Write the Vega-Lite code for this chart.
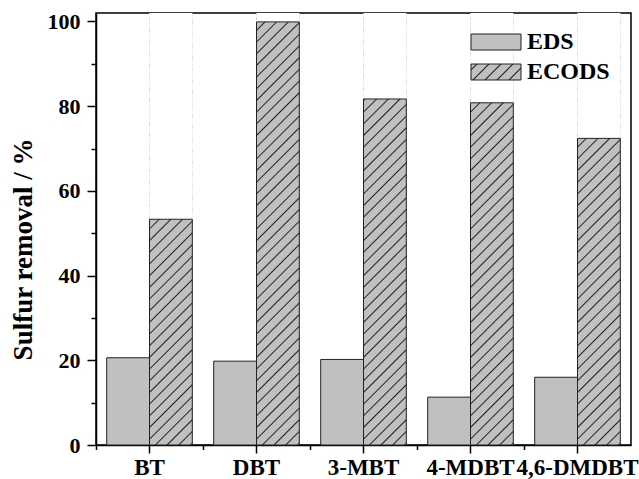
{
  "$schema": "https://vega.github.io/schema/vega-lite/v6.json",
  "width": 535,
  "height": 432,
  "autosize": {"type": "none"},
  "padding": {"left": 96, "top": 13, "right": 8, "bottom": 34},
  "background": "white",
  "data": {
    "values": [
      {"compound": "BT", "type": "EDS", "value": 20.6},
      {"compound": "BT", "type": "ECODS", "value": 53.3},
      {"compound": "DBT", "type": "EDS", "value": 19.8},
      {"compound": "DBT", "type": "ECODS", "value": 99.9},
      {"compound": "3-MBT", "type": "EDS", "value": 20.2},
      {"compound": "3-MBT", "type": "ECODS", "value": 81.7},
      {"compound": "4-MDBT", "type": "EDS", "value": 11.3},
      {"compound": "4-MDBT", "type": "ECODS", "value": 80.8},
      {"compound": "4,6-DMDBT", "type": "EDS", "value": 16.0},
      {"compound": "4,6-DMDBT", "type": "ECODS", "value": 72.4}
    ]
  },
  "config": {
    "view": {"stroke": "#000", "strokeWidth": 1.5},
    "axis": {
      "domainColor": "#000", "domainWidth": 1.5, "tickColor": "#000", "tickWidth": 1.5,
      "labelColor": "#000", "labelFont": "Liberation Serif", "labelFontWeight": "bold", "labelFontSize": 22,
      "titleFont": "Liberation Serif", "titleFontWeight": "bold", "titleFontSize": 27, "titleColor": "#000",
      "grid": false
    }
  },
  "layer": [
    {
      "mark": {"type": "bar", "strokeWidth": 0},
      "encoding": {
        "x": {
          "field": "compound", "type": "nominal",
          "sort": ["BT", "DBT", "3-MBT", "4-MDBT", "4,6-DMDBT"],
          "scale": {"paddingInner": 0, "paddingOuter": 0},
          "axis": {"orient": "bottom", "title": null, "labelAngle": 0, "labelFontSize": 23, "tickSize": 8, "labelPadding": 3, "labelOverlap": false}
        },
        "xOffset": {"field": "type", "type": "nominal", "scale": {"domain": ["EDS", "ECODS"], "paddingInner": 0, "paddingOuter": 0.25}},
        "y": {
          "field": "value", "type": "quantitative",
          "scale": {"domain": [0, 102], "nice": false},
          "axis": {"orient": "left", "values": [0, 20, 40, 60, 80, 100], "title": "Sulfur removal / %", "tickSize": 9, "labelPadding": 7, "titlePadding": 10, "titleY": 236}
        },
        "fill": {
          "field": "type", "type": "nominal",
          "scale": {
            "domain": ["EDS", "ECODS"],
            "range": [
              "silver",
              {"expr": "{gradient: 'linear', x1: 0, y1: 0, x2: 1.1974, y2: 0.38316, stops: [{offset: 0.0685, color: 'silver'}, {offset: 0.09, color: '#222'}, {offset: 0.1115, color: 'silver'}, {offset: 0.2505, color: 'silver'}, {offset: 0.272, color: '#222'}, {offset: 0.2935, color: 'silver'}, {offset: 0.4325, color: 'silver'}, {offset: 0.454, color: '#222'}, {offset: 0.4755, color: 'silver'}, {offset: 0.6145, color: 'silver'}, {offset: 0.636, color: '#222'}, {offset: 0.6575, color: 'silver'}, {offset: 0.7965, color: 'silver'}, {offset: 0.818, color: '#222'}, {offset: 0.8395, color: 'silver'}]}"}
            ]
          },
          "legend": {
            "orient": "none", "legendX": 373, "legendY": 17, "title": null, "padding": 0,
            "symbolType": "M-1,-0.8H4V0.8H-1Z", "symbolSize": 400, "labelOffset": 34,
            "symbolStrokeColor": "#222", "symbolStrokeWidth": 1,
            "labelFontSize": 24, "labelFont": "Liberation Serif", "labelFontWeight": "bold", "labelColor": "#000",
            "rowPadding": 6
          }
        }
      }
    },
    {
      "transform": [{"filter": "datum.type === 'ECODS'"}],
      "mark": {
        "type": "bar", "strokeWidth": 0,
        "fill": {
          "gradient": "linear", "x1": 0, "y1": 0, "x2": 0.10783, "y2": 1.08839,
          "stops": [
            {"offset":0.009,"color":"silver"},{"offset":0.012,"color":"#222"},{"offset":0.015,"color":"silver"},
            {"offset":0.0336,"color":"silver"},{"offset":0.0366,"color":"#222"},{"offset":0.0396,"color":"silver"},
            {"offset":0.0582,"color":"silver"},{"offset":0.0612,"color":"#222"},{"offset":0.0642,"color":"silver"},
            {"offset":0.0828,"color":"silver"},{"offset":0.0858,"color":"#222"},{"offset":0.0888,"color":"silver"},
            {"offset":0.1074,"color":"silver"},{"offset":0.1104,"color":"#222"},{"offset":0.1134,"color":"silver"},
            {"offset":0.132,"color":"silver"},{"offset":0.135,"color":"#222"},{"offset":0.138,"color":"silver"},
            {"offset":0.1566,"color":"silver"},{"offset":0.1596,"color":"#222"},{"offset":0.1626,"color":"silver"},
            {"offset":0.1812,"color":"silver"},{"offset":0.1842,"color":"#222"},{"offset":0.1872,"color":"silver"},
            {"offset":0.2058,"color":"silver"},{"offset":0.2088,"color":"#222"},{"offset":0.2118,"color":"silver"},
            {"offset":0.2304,"color":"silver"},{"offset":0.2334,"color":"#222"},{"offset":0.2364,"color":"silver"},
            {"offset":0.255,"color":"silver"},{"offset":0.258,"color":"#222"},{"offset":0.261,"color":"silver"},
            {"offset":0.2796,"color":"silver"},{"offset":0.2826,"color":"#222"},{"offset":0.2856,"color":"silver"},
            {"offset":0.3042,"color":"silver"},{"offset":0.3072,"color":"#222"},{"offset":0.3102,"color":"silver"},
            {"offset":0.3288,"color":"silver"},{"offset":0.3318,"color":"#222"},{"offset":0.3348,"color":"silver"},
            {"offset":0.3534,"color":"silver"},{"offset":0.3564,"color":"#222"},{"offset":0.3594,"color":"silver"},
            {"offset":0.378,"color":"silver"},{"offset":0.381,"color":"#222"},{"offset":0.384,"color":"silver"},
            {"offset":0.4026,"color":"silver"},{"offset":0.4056,"color":"#222"},{"offset":0.4086,"color":"silver"},
            {"offset":0.4272,"color":"silver"},{"offset":0.4302,"color":"#222"},{"offset":0.4332,"color":"silver"},
            {"offset":0.4518,"color":"silver"},{"offset":0.4548,"color":"#222"},{"offset":0.4578,"color":"silver"},
            {"offset":0.4764,"color":"silver"},{"offset":0.4794,"color":"#222"},{"offset":0.4824,"color":"silver"},
            {"offset":0.501,"color":"silver"},{"offset":0.504,"color":"#222"},{"offset":0.507,"color":"silver"},
            {"offset":0.5256,"color":"silver"},{"offset":0.5286,"color":"#222"},{"offset":0.5316,"color":"silver"},
            {"offset":0.5502,"color":"silver"},{"offset":0.5532,"color":"#222"},{"offset":0.5562,"color":"silver"},
            {"offset":0.5748,"color":"silver"},{"offset":0.5778,"color":"#222"},{"offset":0.5808,"color":"silver"},
            {"offset":0.5994,"color":"silver"},{"offset":0.6024,"color":"#222"},{"offset":0.6054,"color":"silver"},
            {"offset":0.624,"color":"silver"},{"offset":0.627,"color":"#222"},{"offset":0.63,"color":"silver"},
            {"offset":0.6486,"color":"silver"},{"offset":0.6516,"color":"#222"},{"offset":0.6546,"color":"silver"},
            {"offset":0.6732,"color":"silver"},{"offset":0.6762,"color":"#222"},{"offset":0.6792,"color":"silver"},
            {"offset":0.6978,"color":"silver"},{"offset":0.7008,"color":"#222"},{"offset":0.7038,"color":"silver"},
            {"offset":0.7224,"color":"silver"},{"offset":0.7254,"color":"#222"},{"offset":0.7284,"color":"silver"},
            {"offset":0.747,"color":"silver"},{"offset":0.75,"color":"#222"},{"offset":0.753,"color":"silver"},
            {"offset":0.7716,"color":"silver"},{"offset":0.7746,"color":"#222"},{"offset":0.7776,"color":"silver"},
            {"offset":0.7962,"color":"silver"},{"offset":0.7992,"color":"#222"},{"offset":0.8022,"color":"silver"},
            {"offset":0.8208,"color":"silver"},{"offset":0.8238,"color":"#222"},{"offset":0.8268,"color":"silver"},
            {"offset":0.8454,"color":"silver"},{"offset":0.8484,"color":"#222"},{"offset":0.8514,"color":"silver"},
            {"offset":0.87,"color":"silver"},{"offset":0.873,"color":"#222"},{"offset":0.876,"color":"silver"},
            {"offset":0.8946,"color":"silver"},{"offset":0.8976,"color":"#222"},{"offset":0.9006,"color":"silver"},
            {"offset":0.9192,"color":"silver"},{"offset":0.9222,"color":"#222"},{"offset":0.9252,"color":"silver"},
            {"offset":0.9438,"color":"silver"},{"offset":0.9468,"color":"#222"},{"offset":0.9498,"color":"silver"},
            {"offset":0.9684,"color":"silver"},{"offset":0.9714,"color":"#222"},{"offset":0.9744,"color":"silver"},
            {"offset":0.993,"color":"silver"},{"offset":0.996,"color":"#222"},{"offset":0.999,"color":"silver"}
          ]
        }
      },
      "encoding": {
        "x": {
          "field": "compound", "type": "nominal",
          "sort": ["BT", "DBT", "3-MBT", "4-MDBT", "4,6-DMDBT"],
          "axis": {"orient": "bottom", "bandPosition": 0, "labels": false, "domain": false, "tickSize": 4.5, "title": null}
        },
        "xOffset": {"field": "type", "type": "nominal"},
        "y": {
          "datum": 102, "type": "quantitative",
          "axis": {"orient": "left", "values": [10, 30, 50, 70, 90], "labels": false, "domain": false, "tickSize": 5, "title": null}
        },
        "y2": {"datum": 0}
      }
    },
    {
      "transform": [{"filter": "datum.type === 'ECODS'"}],
      "mark": {"type": "bar", "fill": "white", "strokeWidth": 0},
      "encoding": {
        "x": {"field": "compound", "type": "nominal", "sort": ["BT", "DBT", "3-MBT", "4-MDBT", "4,6-DMDBT"], "axis": null},
        "xOffset": {"field": "type", "type": "nominal"},
        "y": {"field": "value", "type": "quantitative", "axis": null},
        "y2": {"datum": 102}
      }
    },
    {
      "mark": {"type": "bar", "fill": "transparent", "stroke": "#222", "strokeWidth": 1},
      "encoding": {
        "x": {"field": "compound", "type": "nominal", "sort": ["BT", "DBT", "3-MBT", "4-MDBT", "4,6-DMDBT"], "axis": null},
        "xOffset": {"field": "type", "type": "nominal"},
        "y": {"field": "value", "type": "quantitative", "axis": null}
      }
    }
  ],
  "resolve": {"axis": {"x": "independent", "y": "independent"}}
}
